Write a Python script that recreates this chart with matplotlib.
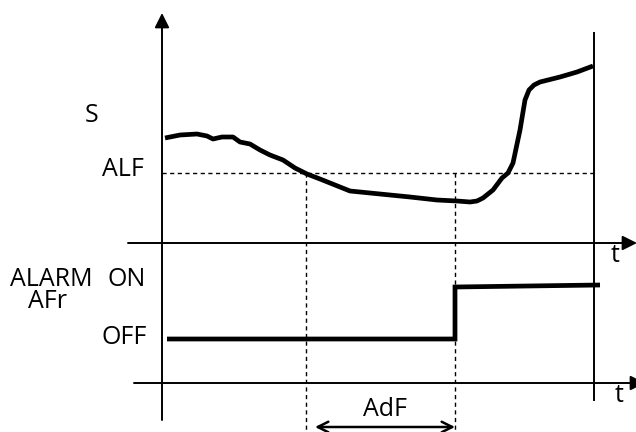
import matplotlib
matplotlib.use("Agg")
import matplotlib.pyplot as plt

plt.rcParams['font.family'] = ['Open Sans', 'DejaVu Sans']

# Probe signal S (diagram units: x = time, y = screen-like position, inverted axis)
s_time = [165, 180, 197, 207, 213, 222, 233, 240, 250, 260, 270, 283, 295, 307, 320,
          335, 350, 380, 410, 437, 457, 470, 477, 483, 493, 502, 508, 513, 520, 525,
          529, 534, 540, 560, 577, 593]
s_value = [138, 135, 134, 136, 139, 137, 137, 142, 144, 150, 155, 160, 168, 174, 179,
           185, 191, 194, 197, 200, 201, 202, 201, 198, 190, 178, 173, 163, 130, 100,
           90, 85, 82, 77, 72, 66]

# Threshold ALF and alarm delay AdF
alf_level = 173
adf_start = 306
adf_end = 455

# Alarm output (step)
alarm_time = [167, 455, 455, 600]
alarm_level = [339, 339, 287, 285]

fig = plt.figure(figsize=(6.36, 4.32), dpi=100)
ax = fig.add_axes([0, 0, 1, 1])
ax.set_xlim(0, 636)
ax.set_ylim(432, 0)
ax.axis('off')

fs = 18
lw_axis = 1.4

def arrow(x0, y0, x1, y1, style='-|>', ms=22, lw=lw_axis):
    ax.annotate('', xy=(x1, y1), xytext=(x0, y0),
                arrowprops=dict(arrowstyle=style, lw=lw, color='black',
                                mutation_scale=ms, shrinkA=0, shrinkB=0),
                annotation_clip=False)

# left vertical axis with arrow
arrow(162, 420, 162, 13)
# right vertical line
ax.plot([594, 594], [33, 400], color='black', lw=lw_axis)
# upper time axis
arrow(128, 243, 637, 243)
# lower time axis
arrow(134, 383, 645, 383)

# dashed threshold and delay lines
dash = (0, (3.0, 2.5))
ax.plot([162, 594], [alf_level, alf_level], color='black', lw=1.0, linestyle=dash)
ax.plot([adf_start, adf_start], [alf_level, 432], color='black', lw=1.0, linestyle=dash)
ax.plot([adf_end, adf_end], [alf_level, 432], color='black', lw=1.0, linestyle=dash)

# signal curve
ax.plot(s_time, s_value, color='black', lw=3.4, solid_joinstyle='round',
        solid_capstyle='butt')

# alarm step
ax.plot(alarm_time, alarm_level, color='black', lw=3.4, solid_joinstyle='miter',
        solid_capstyle='butt')

# AdF double arrow
arrow(adf_start + 9, 427, adf_end, 427, style='<->', ms=19, lw=1.8)

# texts
ax.text(92, 115, 'S', fontsize=fs, ha='center', va='center')
ax.text(123, 170, 'ALF', fontsize=fs, ha='center', va='center')
ax.text(615, 256, 't', fontsize=fs, ha='center', va='center')
ax.text(619, 396, 't', fontsize=fs, ha='center', va='center')
ax.text(51, 279, 'ALARM', fontsize=fs, ha='center', va='center')
ax.text(47, 302, 'AFr', fontsize=fs, ha='center', va='center')
ax.text(127, 279, 'ON', fontsize=fs, ha='center', va='center')
ax.text(124, 338, 'OFF', fontsize=fs, ha='center', va='center')
ax.text(385, 409, 'AdF', fontsize=fs, ha='center', va='center')

fig.savefig('out.png', dpi=100)
